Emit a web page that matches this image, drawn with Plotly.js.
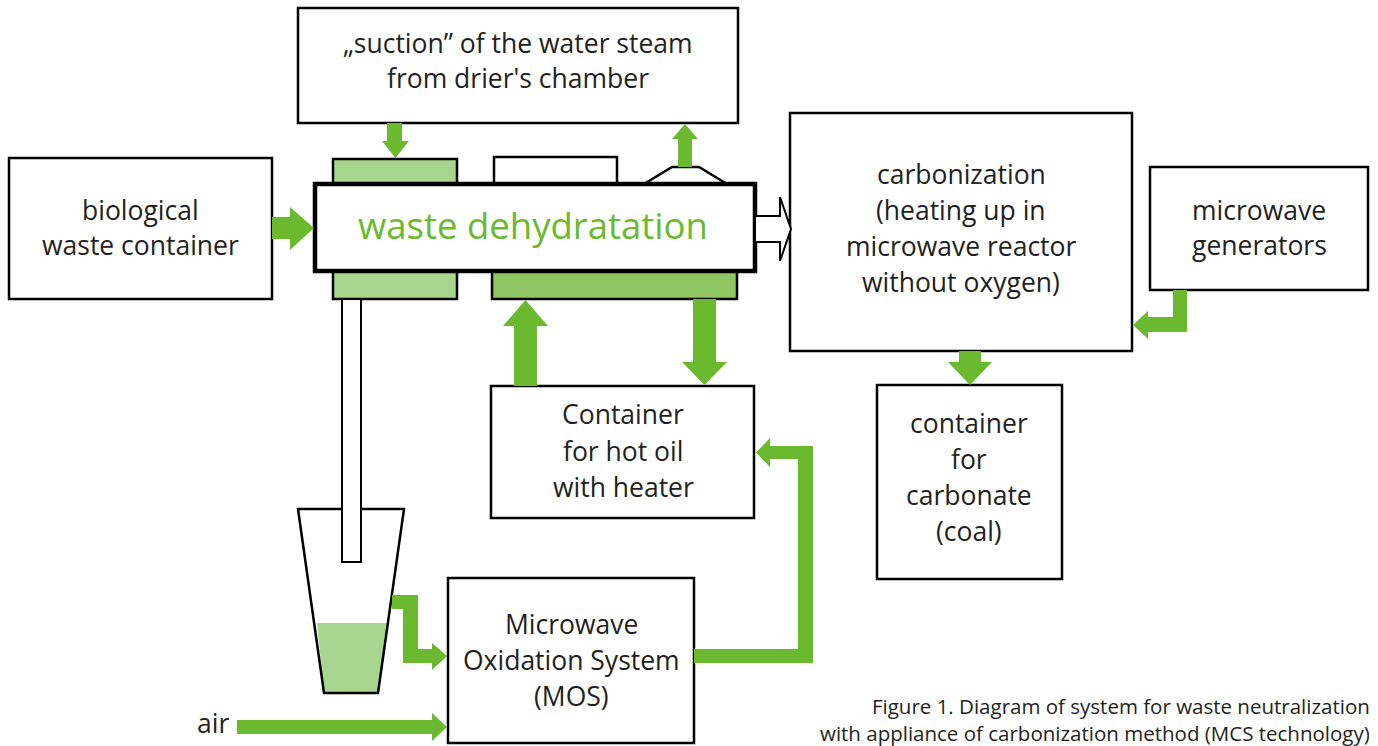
<!DOCTYPE html>
<html>
<head>
<meta charset="utf-8">
<script src="https://cdn.plot.ly/plotly-3.0.1.min.js"></script>
<style>html,body{margin:0;padding:0;background:#fff;}#chart{width:1378px;height:746px;}</style>
</head>
<body>
<div id="chart"></div>
<script>
// ---- content (text of each block) ----
const suctionLines = ["„suction” of the water steam", "from drier's chamber"];
const bioLines = ["biological", "waste container"];
const dehydrLabel = "waste dehydratation";
const carbonLines = ["carbonization", "(heating up in", "microwave reactor", "without oxygen)"];
const generatorLines = ["microwave", "generators"];
const oilLines = ["Container", "for hot oil", "with heater"];
const carbonateLines = ["container", "for", "carbonate", "(coal)"];
const mosLines = ["Microwave", "Oxidation System", "(MOS)"];
const airLabel = "air";
const captionLines = ["Figure 1. Diagram of system for waste neutralization",
                      "with appliance of carbonization method (MCS technology)"];

// ---- layout geometry (diagram coordinates = pixels) ----
const GREEN = "#6ab92f", LIGHT = "#a9d68f", MID = "#8dc663", INK = "#231f20";
const FONT = "'Open Sans', Lato, sans-serif";
const shapes = [];
function rect(x0, y0, x1, y1, fill, lw, lc) {
  shapes.push({type: "rect", xref: "x", yref: "y", x0, y0, x1, y1,
    fillcolor: fill, line: {color: lc || "#000", width: lw}});
}
function poly(pts, fill, lw, closed) {
  let d = "M" + pts.map(p => p[0] + "," + p[1]).join(" L") + (closed === false ? "" : " Z");
  shapes.push({type: "path", xref: "x", yref: "y", path: d,
    fillcolor: fill, line: {color: lw ? "#000" : "rgba(0,0,0,0)", width: lw || 0}});
}
function gRect(x0, y0, x1, y1) { rect(x0, y0, x1, y1, GREEN, 0, "rgba(0,0,0,0)"); }
function gTri(a, b, c) { poly([a, b, c], GREEN, 0); }

// boxes
rect(298, 8, 738, 123, "#fff", 2.5);
rect(9, 158, 272, 299, "#fff", 2.5);
rect(790, 113, 1132, 351, "#fff", 2.5);
rect(1150, 167, 1368, 290, "#fff", 2.5);
rect(491, 386, 754, 518, "#fff", 2.5);
rect(877, 385, 1062, 579, "#fff", 2.5);
rect(448, 578, 694, 743, "#fff", 2.5);

// dryer parts
rect(333, 159, 457, 186, LIGHT, 2.5);
rect(333, 270, 457, 299, LIGHT, 2.5);
rect(494, 157, 617, 186, "#fff", 2.5);
rect(492, 270, 737, 299, MID, 2.5);
poly([[644, 184], [672, 167], [699, 167], [727, 184]], "rgba(0,0,0,0)", 2.5, false);
rect(315, 184, 755, 271, "#fff", 4.5);

// beaker with liquid and tube
poly([[317, 623], [387, 623], [378, 693], [324, 693]], LIGHT, 0);
poly([[298, 509], [324, 693], [378, 693], [404, 509]], "rgba(0,0,0,0)", 2.5);
rect(342, 299, 361, 562, "#fff", 2);

// outline arrow into carbonization
poly([[755, 216], [780, 216], [780, 197], [791, 229], [780, 261], [780, 242], [755, 242]], "#fff", 2);

// green arrows
gRect(272, 217, 291, 239); gTri([290, 207], [314, 228], [290, 250]);
gRect(387, 123, 402, 142); gTri([382, 141], [409, 141], [395.5, 158]);
gRect(678, 138, 692, 167); gTri([672, 139], [698, 139], [685, 124]);
gRect(514, 325, 537, 386); gTri([503, 326], [548, 326], [525.5, 300]);
gRect(693, 299, 716, 363); gTri([682, 362], [727, 362], [704.5, 385]);
gRect(959, 351, 981, 363); gTri([948, 362], [992, 362], [970, 385]);
gRect(1173, 290, 1187, 332); gRect(1147, 317, 1187, 332); gTri([1148, 311], [1148, 339], [1133, 325]);
gRect(694, 649, 813, 663); gRect(798, 446, 813, 663); gRect(769, 446, 813, 459); gTri([770, 438], [770, 467], [756, 452.5]);
gRect(392, 595, 418, 609); gRect(403, 595, 418, 663); gRect(403, 649, 433, 663); gTri([432, 643], [432, 670], [447, 656]);
gRect(237, 720, 433, 734); gTri([432, 713], [432, 741], [447, 727]);

// text
const annotations = [];
function lines(arr, x, y0, dy, size, color) {
  arr.forEach((t, i) => annotations.push({xref: "x", yref: "y", x, y: y0 + i * dy, text: t,
    showarrow: false, xanchor: "center", yanchor: "middle",
    font: {family: FONT, size: size, color: color || INK}}));
}
lines(suctionLines, 518, 43, 35, 26.5);
lines(bioLines, 140, 210, 35, 26.5);
lines([dehydrLabel], 533, 225, 0, 36.5, GREEN);
lines(carbonLines, 961, 174, 36, 26.5);
lines(generatorLines, 1259, 210, 35, 26.5);
lines(oilLines, 623, 414, 36.5, 26.5);
lines(carbonateLines, 969, 423, 36, 26.5);
lines(mosLines, 571, 624, 36, 26.5);
lines([airLabel], 213, 723, 0, 26.5);
annotations.push({xref: "x", yref: "y", x: 1372, y: 719, text: captionLines.join("<br>"),
  showarrow: false, xanchor: "right", yanchor: "middle", align: "right",
  font: {family: FONT, size: 20.5, color: INK}});

const layout = {
  width: 1378, height: 746, margin: {l: 0, r: 0, t: 0, b: 0},
  paper_bgcolor: "#fff", plot_bgcolor: "#fff", showlegend: false,
  xaxis: {range: [0, 1378], visible: false, fixedrange: true},
  yaxis: {range: [746, 0], visible: false, fixedrange: true},
  shapes, annotations
};
Plotly.newPlot("chart", [{x: [], y: [], type: "scatter", mode: "markers", hoverinfo: "skip"}], layout, {staticPlot: true, displayModeBar: false});
</script>
</body>
</html>
